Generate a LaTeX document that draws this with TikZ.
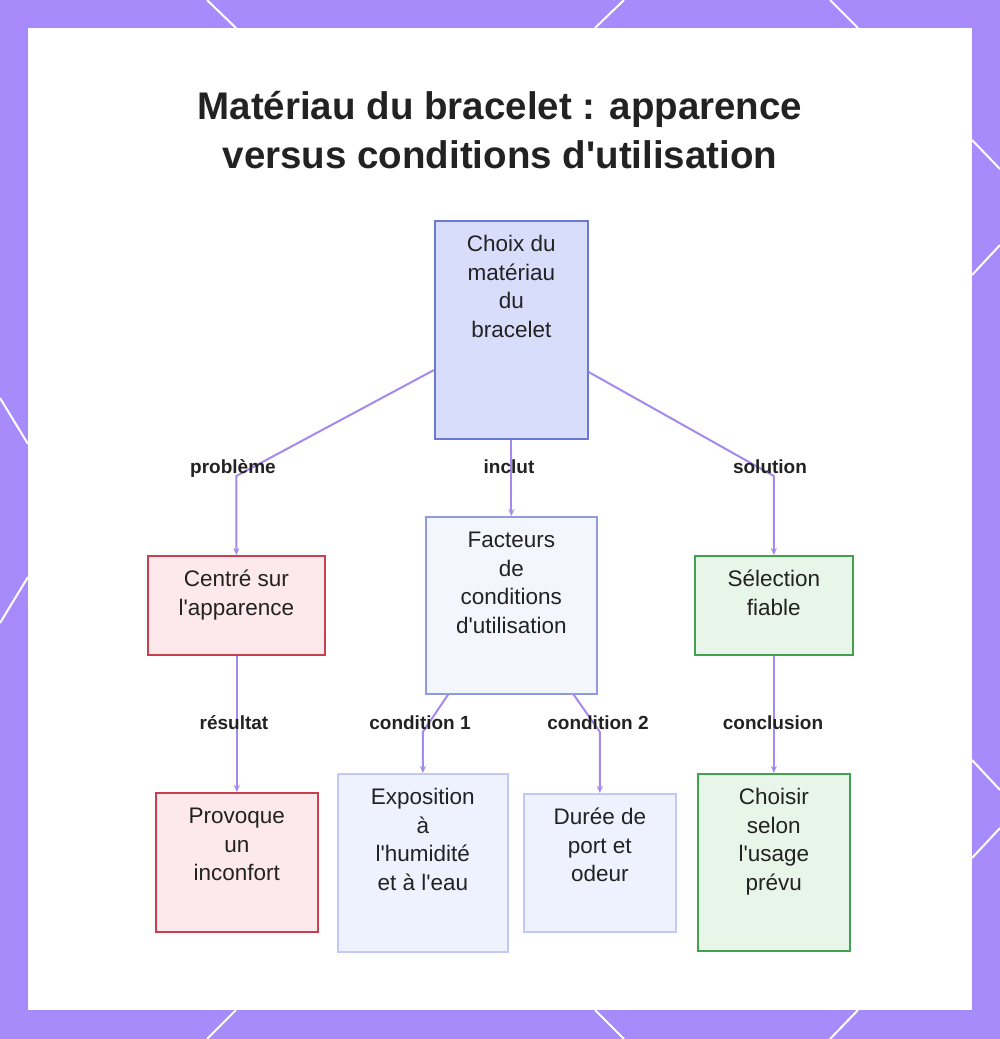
\documentclass[tikz,border=0pt]{standalone}
\usepackage{fontspec}
\setmainfont{Liberation Sans}
\usetikzlibrary{calc,arrows.meta}
\definecolor{bgpurple}{HTML}{A78BFA}
\definecolor{edgec}{HTML}{A48AEE}
\definecolor{txt}{HTML}{222222}
\definecolor{rootfill}{HTML}{D9DDFC}
\definecolor{rootdraw}{HTML}{6A79D2}
\definecolor{midfill}{HTML}{F4F6FE}
\definecolor{middraw}{HTML}{8E9BE3}
\definecolor{lightfill}{HTML}{EEF2FE}
\definecolor{lightdraw}{HTML}{BFCAF5}
\definecolor{redfill}{HTML}{FDE9EC}
\definecolor{reddraw}{HTML}{C84050}
\definecolor{greenfill}{HTML}{E8F5E9}
\definecolor{greendraw}{HTML}{43A04E}
\newcommand\ap{\textquotesingle}
\newcommand\boxtxt[3]{\parbox[t][#2][t]{#1}{\centering\rule{0pt}{31pt}#3}}
\begin{document}
\begin{tikzpicture}[x=1pt,y=-1pt,
  box/.style={draw, line width=1.7pt, inner sep=0pt, anchor=north west, text=txt,
    font=\fontsize{22.5}{28.5}\selectfont},
  rootbox/.style={box, fill=rootfill, draw=rootdraw},
  midbox/.style={box, fill=midfill, draw=middraw},
  lightbox/.style={box, fill=lightfill, draw=lightdraw},
  redbox/.style={box, fill=redfill, draw=reddraw},
  greenbox/.style={box, fill=greenfill, draw=greendraw},
  edge/.style={draw=edgec, line width=2pt, -{Stealth[length=7pt,width=6pt]}},
  lbl/.style={font=\bfseries\fontsize{19}{22}\selectfont, text=txt, inner sep=0pt, anchor=base},
  deco/.style={draw=white, line width=2pt}]
% background
\fill[bgpurple] (0,0) rectangle (1000,1039);
\useasboundingbox (0,0) rectangle (1000,1039);
\draw[deco] (207,0) -- (236,28);
\draw[deco] (624,0) -- (595,28);
\draw[deco] (830,0) -- (858,28);
\draw[deco] (236,1010) -- (207,1039);
\draw[deco] (595,1010) -- (624,1039);
\draw[deco] (858,1010) -- (830,1039);
\draw[deco] (0,398) -- (28,444);
\draw[deco] (28,577) -- (0,623);
\draw[deco] (972,140) -- (1000,169);
\draw[deco] (1000,245) -- (972,275);
\draw[deco] (972,760) -- (1000,790);
\draw[deco] (1000,828) -- (972,858);
\fill[white] (28,28) rectangle (972,1010);
% title
\node[font=\bfseries\fontsize{38.5}{49}\selectfont, align=center, anchor=north, inner sep=0pt, text=txt]
  (title) at (500,89) {\rule{0pt}{30pt}Matériau du bracelet : apparence\\versus conditions d\ap utilisation};
% nodes
\node[rootbox] (root) at (434,220) {\boxtxt{153pt}{218pt}{Choix du\\matériau\\du\\bracelet}};
\node[redbox] (c1) at (147,555) {\boxtxt{177pt}{99pt}{Centré sur\\l\ap apparence}};
\node[midbox] (c2) at (425,516) {\boxtxt{171pt}{177pt}{Facteurs\\de\\conditions\\d\ap utilisation}};
\node[greenbox] (c3) at (694,555) {\boxtxt{158pt}{99pt}{Sélection\\fiable}};
\node[redbox] (d1) at (155,792) {\boxtxt{162pt}{139pt}{Provoque\\un\\inconfort}};
\node[lightbox] (d2) at (337,773) {\boxtxt{170pt}{178pt}{Exposition\\à\\l\ap humidité\\et à l\ap eau}};
\node[lightbox] (d3) at (523,793) {\boxtxt{152pt}{138pt}{Durée de\\port et\\odeur}};
\node[greenbox] (d4) at (697,773) {\boxtxt{152pt}{177pt}{Choisir\\selon\\l\ap usage\\prévu}};
% edges
\draw[edge] ($(root.north west)+(0,150)$) -- (c1.north |- 0,476) -- (c1.north);
\draw[edge] (root.south) -- (c2.north);
\draw[edge] ($(root.north east)+(0,152)$) -- (c3.north |- 0,476) -- (c3.north);
\draw[edge] (d1.north |- c1.south) -- (d1.north);
\draw[edge] ($(c2.south west)+(23,0)$) -- (d2.north |- 0,732) -- (d2.north);
\draw[edge] ($(c2.south east)+(-24,0)$) -- (d3.north |- 0,732) -- (d3.north);
\draw[edge] (d4.north |- c3.south) -- (d4.north);
% labels
\node[lbl] (l1) at (233,473) {problème};
\node[lbl] (l2) at (509,473) {inclut};
\node[lbl] (l3) at (770,473) {solution};
\node[lbl] (l4) at (234,729) {résultat};
\node[lbl] (l5) at (420,729) {condition 1};
\node[lbl] (l6) at (598,729) {condition 2};
\node[lbl] (l7) at (773,729) {conclusion};
\end{tikzpicture}
\end{document}
